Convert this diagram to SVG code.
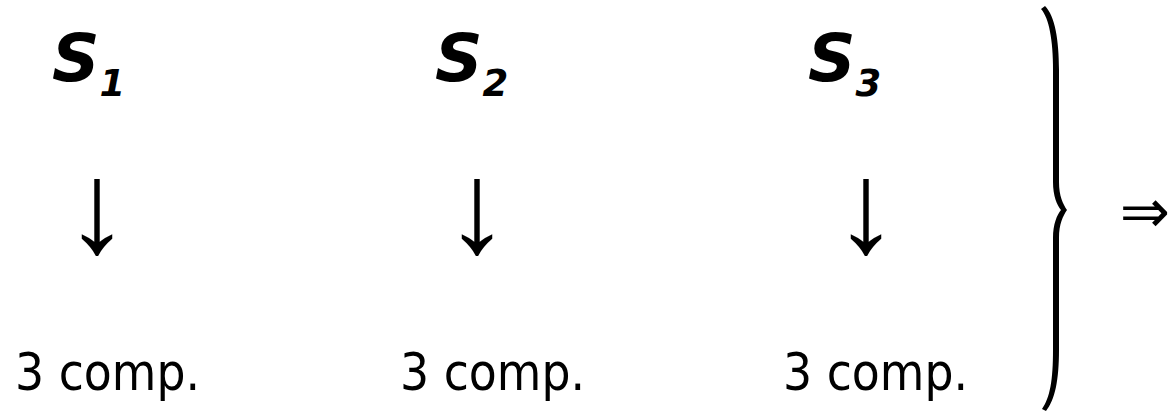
<svg xmlns="http://www.w3.org/2000/svg" width="1176" height="411" viewBox="0 0 1176 411">
<style>
.s{font-family:"DejaVu Sans",Verdana,sans-serif;font-weight:bold;font-style:italic;font-size:66px;fill:#000}
.sub{font-size:37px}
.c{font-family:"DejaVu Sans",Tahoma,sans-serif;font-size:52px;fill:#000}
.a{font-family:"Liberation Sans",Arial,sans-serif;font-size:130px;fill:#000}
.r{font-family:"DejaVu Sans",sans-serif;font-size:60px;fill:#000}
</style>
<rect width="1176" height="411" fill="#fff"/>
<g id="node-s1">
<text class="s" x="52" y="81">S<tspan class="sub" dy="15">1</tspan></text>
<text class="a" x="97" y="252" text-anchor="middle">↓</text>
<text class="c" x="15" y="390" textLength="185" lengthAdjust="spacingAndGlyphs">3 comp.</text>
</g>
<g id="node-s2">
<text class="s" x="435" y="81">S<tspan class="sub" dy="15">2</tspan></text>
<text class="a" x="477" y="252" text-anchor="middle">↓</text>
<text class="c" x="400" y="390" textLength="185" lengthAdjust="spacingAndGlyphs">3 comp.</text>
</g>
<g id="node-s3">
<text class="s" x="808" y="81">S<tspan class="sub" dy="15">3</tspan></text>
<text class="a" x="866" y="252" text-anchor="middle">↓</text>
<text class="c" x="783" y="390" textLength="185" lengthAdjust="spacingAndGlyphs">3 comp.</text>
</g>
<g id="brace">
<path d="M1045,6 C1055,16 1059,40 1059,70 L1059,182 C1059,196 1063,204 1067,210 C1063,216 1059,224 1059,238 L1059,350 C1059,380 1055,400 1046,411 L1042,409 C1050,398 1053,380 1053,350 L1053,238 C1053,224 1057,215 1061,210 C1057,205 1053,196 1053,182 L1053,70 C1053,40 1049,18 1041,9 Z" fill="#000"/>
</g>
<g id="result">
<text class="r" x="1145" y="232" text-anchor="middle">⇒</text>
</g>
</svg>
